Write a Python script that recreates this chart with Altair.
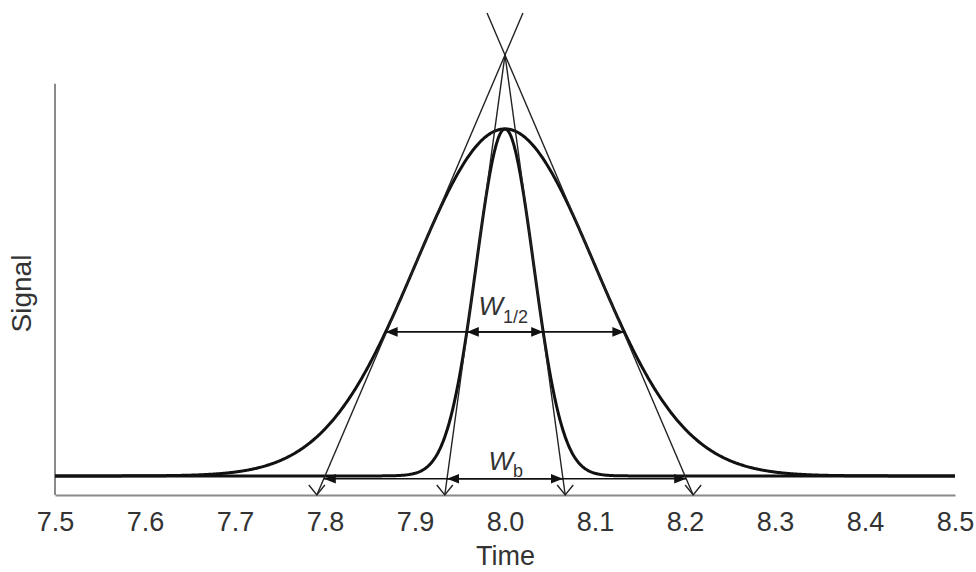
import altair as alt
import numpy as np
import pandas as pd

# Two Gaussian peaks with the same retention time and height
peak_names = ["broad", "narrow"]
centers = [8.0, 8.0]
sigmas = [0.1, 0.032]
heights = [1.0, 1.0]

time_range = [7.5, 8.5]
tick_values = [7.5, 7.6, 7.7, 7.8, 7.9, 8.0, 8.1, 8.2, 8.3, 8.4, 8.5]

# signal levels (fraction of peak height) used by the annotations
half_level = 0.415      # level of the W1/2 arrows
base_level = -0.008     # level of the Wb arrows
y_floor = -0.055        # time axis
y_ceiling = 1.334       # top of the drawing
y_axis_top = 1.13       # top of the signal axis line

FONT = "Liberation Sans"
INK = "#111111"
TEXT = "#333333"
AXIS = "#8a8a8a"

# sampled peak profiles
t = np.linspace(time_range[0], time_range[1], 1001)
curve_rows = []
for name, c, s, h in zip(peak_names, centers, sigmas, heights):
    for ti in t:
        curve_rows.append({"peak": name, "time": ti,
                           "signal": h * np.exp(-((ti - c) ** 2) / (2 * s ** 2))})
curves = pd.DataFrame(curve_rows)

# inflection tangents: through (c -/+ s, h*e^-1/2), reaching 0 at c -/+ 2s
tangent_rows, vhead_rows, arrow_rows, lhead_rows, rhead_rows = [], [], [], [], []
for name, c, s, h in zip(peak_names, centers, sigmas, heights):
    hi = h * np.exp(-0.5)
    top = y_ceiling if name == "broad" else 2 * hi
    for side in (-1, 1):
        def tx(y):
            return c + side * (2 * s - y * s / hi)
        tangent_rows.append({"x": tx(y_floor), "y": y_floor, "x2": tx(top), "y2": top})
        vhead_rows.append({"x": tx(y_floor), "y": y_floor})
    # width at the W1/2 level
    half_w = s * np.sqrt(-2 * np.log(half_level))
    arrow_rows.append({"x": c - half_w, "x2": c + half_w, "y": half_level * h})
    lhead_rows.append({"x": c - half_w, "y": half_level * h})
    rhead_rows.append({"x": c + half_w, "y": half_level * h})
    # width at the base, between tangent intersections
    base_w = 2 * s - base_level * s / hi
    arrow_rows.append({"x": c - base_w, "x2": c + base_w, "y": base_level})
    lhead_rows.append({"x": c - base_w, "y": base_level})
    rhead_rows.append({"x": c + base_w, "y": base_level})

tangents = pd.DataFrame(tangent_rows)
vheads = pd.DataFrame(vhead_rows)
arrows = pd.DataFrame(arrow_rows)
lheads = pd.DataFrame(lhead_rows)
rheads = pd.DataFrame(rhead_rows)

xs = alt.Scale(domain=time_range, nice=False, zero=False)
ys = alt.Scale(domain=[y_floor, y_ceiling], nice=False, zero=False)

x_axis = alt.Axis(values=tick_values, format=".1f", title="Time", grid=False,
                  ticks=False, domain=True, domainColor=AXIS, domainWidth=2,
                  labelFont=FONT, labelFontSize=27, labelColor=TEXT,
                  labelPadding=14, labelFlush=False, labelOverlap=False,
                  labelBound=False, titleFont=FONT, titleFontSize=27,
                  titleFontWeight="normal", titleColor=TEXT, titlePadding=8)
y_axis = alt.Axis(title="Signal", labels=False, ticks=False, domain=False,
                  grid=False, titleFont=FONT, titleFontSize=28,
                  titleFontWeight="normal", titleColor=TEXT,
                  titleX=-33, titleY=280, titleBaseline="middle")

# signal axis line
yline = alt.Chart(pd.DataFrame({"x": [time_range[0]], "y": [y_floor],
                                "y2": [y_axis_top]})).mark_rule(
    color=AXIS, strokeWidth=2).encode(
    x=alt.X("x:Q", scale=xs, axis=x_axis),
    y=alt.Y("y:Q", scale=ys, axis=y_axis), y2="y2:Q")

peaks = alt.Chart(curves).mark_line(color=INK, strokeWidth=3).encode(
    x=alt.X("time:Q", scale=xs), y=alt.Y("signal:Q", scale=ys),
    detail="peak:N")

tangent_lines = alt.Chart(tangents).mark_rule(color="#222222", strokeWidth=1.4).encode(
    x=alt.X("x:Q", scale=xs), y=alt.Y("y:Q", scale=ys), x2="x2:Q", y2="y2:Q")

v_marks = alt.Chart(vheads).mark_point(
    shape="M-1,-1.25L0,0L1,-1.25", filled=False, size=256, opacity=1,
    color="#222222", strokeWidth=1.4).encode(
    x=alt.X("x:Q", scale=xs), y=alt.Y("y:Q", scale=ys))

arrow_lines = alt.Chart(arrows).mark_rule(color=INK, strokeWidth=1.6).encode(
    x=alt.X("x:Q", scale=xs), y=alt.Y("y:Q", scale=ys), x2="x2:Q")

left_heads = alt.Chart(lheads).mark_point(
    shape="M0,0L2,-0.8L2,0.8Z", filled=True, size=144, opacity=1,
    color=INK, strokeWidth=0).encode(
    x=alt.X("x:Q", scale=xs), y=alt.Y("y:Q", scale=ys))

right_heads = alt.Chart(rheads).mark_point(
    shape="M0,0L-2,-0.8L-2,0.8Z", filled=True, size=144, opacity=1,
    color=INK, strokeWidth=0).encode(
    x=alt.X("x:Q", scale=xs), y=alt.Y("y:Q", scale=ys))

# labels: italic W with an upright subscript
label_df = pd.DataFrame({"x": [centers[0]], "yh": [half_level * heights[0]],
                         "yb": [base_level]})
w_half = alt.Chart(label_df).mark_text(
    text="W", fontStyle="italic", font=FONT, fontSize=26, color=TEXT,
    align="right", baseline="alphabetic", dx=-2, dy=-17).encode(
    x=alt.X("x:Q", scale=xs), y=alt.Y("yh:Q", scale=ys))
w_half_sub = alt.Chart(label_df).mark_text(
    text="1/2", font=FONT, fontSize=18, color=TEXT,
    align="left", baseline="alphabetic", dx=-2, dy=-9).encode(
    x=alt.X("x:Q", scale=xs), y=alt.Y("yh:Q", scale=ys))
w_base = alt.Chart(label_df).mark_text(
    text="W", fontStyle="italic", font=FONT, fontSize=26, color=TEXT,
    align="right", baseline="alphabetic", dx=8, dy=-9).encode(
    x=alt.X("x:Q", scale=xs), y=alt.Y("yb:Q", scale=ys))
w_base_sub = alt.Chart(label_df).mark_text(
    text="b", font=FONT, fontSize=18, color=TEXT,
    align="left", baseline="alphabetic", dx=8, dy=-2).encode(
    x=alt.X("x:Q", scale=xs), y=alt.Y("yb:Q", scale=ys))

chart = alt.layer(
    yline, peaks, tangent_lines, v_marks, arrow_lines, left_heads, right_heads,
    w_half, w_half_sub, w_base, w_base_sub
).properties(
    width=900, height=482,
    padding={"left": 55, "top": 13, "right": 21, "bottom": 77},
    autosize=alt.AutoSizeParams(type="none"),
    background="white",
).configure_view(stroke=None)

chart.save("out.html", embed_options={"renderer": "svg", "actions": False})
